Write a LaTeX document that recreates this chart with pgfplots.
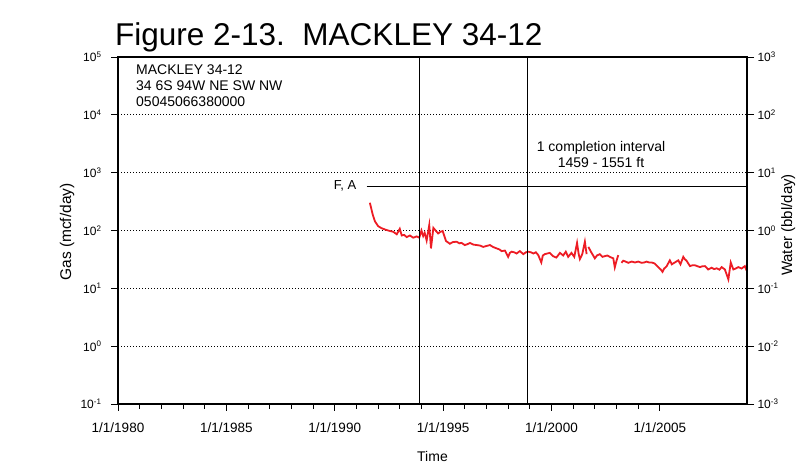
\documentclass[border=0pt]{standalone}
\usepackage{pgfplots}
\pgfplotsset{compat=1.18}
\usepackage{fontspec}
\setmainfont{Liberation Sans}
\definecolor{gasred}{RGB}{237,28,36}
\begin{document}
\begin{tikzpicture}
\useasboundingbox (0,0) rectangle (798pt,465pt);
\begin{axis}[
  at={(118pt,61pt)}, anchor=south west, scale only axis,
  width=629pt, height=347pt,
  xmin=1980, xmax=2009.02, ymode=log, ymin=0.1, ymax=1e5,
  xtick={1980,1985,1990,1995,2000,2005},
  xticklabels={1/1/1980,1/1/1985,1/1/1990,1/1/1995,1/1/2000,1/1/2005},
  minor x tick num=4,
  ytick={0.1,1,10,100,1000,10000,100000},
  yticklabels={10\textsuperscript{-1},10\textsuperscript{0},10\textsuperscript{1},10\textsuperscript{2},10\textsuperscript{3},10\textsuperscript{4},10\textsuperscript{5}},
  yminorticks=false,
  xtick pos=left, ytick pos=left,
  tick align=outside,
  major tick length=7pt, minor tick length=5pt,
  tick style={black, line width=0.9pt},
  axis line style={line width=1.3pt},
  ymajorgrids, major grid style={black, line width=0.7pt, dash pattern=on 1pt off 2pt},
  xticklabel style={font=\fontsize{13.5}{14}\selectfont, yshift=-8pt},
  yticklabel style={font=\fontsize{12}{12}\selectfont, xshift=-6pt},
  clip=false,
]
\addplot[gasred, line width=1.8pt] coordinates {
(1991.62,302) (1991.75,190) (1991.85,145) (1992.0,119) (1992.15,110) (1992.32,104)
(1992.5,99) (1992.7,95) (1992.86,86) (1993.0,107) (1993.09,82) (1993.2,84)
(1993.32,77) (1993.47,82) (1993.62,75) (1993.78,79) (1993.9,75) (1994.0,100)
(1994.08,80) (1994.15,91) (1994.24,67) (1994.36,124) (1994.44,49) (1994.55,111)
(1994.67,98) (1994.77,89) (1994.88,95) (1994.98,98) (1995.13,66) (1995.31,59)
(1995.45,63) (1995.62,64) (1995.75,60) (1995.85,61) (1996.0,56) (1996.12,58)
(1996.24,61) (1996.4,57) (1996.55,56) (1996.7,55) (1996.85,52) (1997.0,54)
(1997.16,56) (1997.3,52) (1997.47,49) (1997.6,47) (1997.7,44) (1997.85,45)
(1998.0,35) (1998.08,41) (1998.16,43) (1998.28,42) (1998.39,40) (1998.54,44)
(1998.7,39) (1998.82,42) (1998.93,43) (1999.05,42) (1999.16,40) (1999.28,42)
(1999.39,37.5) (1999.53,28) (1999.6,37) (1999.69,39) (1999.8,40) (1999.92,41)
(2000.07,36) (2000.22,34) (2000.3,37) (2000.39,41) (2000.54,37) (2000.66,43)
(2000.77,35) (2000.92,41) (2001.05,35) (2001.18,61) (2001.25,40) (2001.31,32)
(2001.42,39) (2001.54,64) (2001.62,39)
};
\addplot[gasred, line width=1.8pt] coordinates {
(2001.7,52) (2001.85,41) (2002.0,33) (2002.1,37) (2002.23,39) (2002.35,35)
(2002.46,36) (2002.58,37) (2002.69,35) (2002.85,33) (2002.92,23) (2003.0,30)
(2003.08,37.5)
};
\addplot[gasred, line width=1.8pt] coordinates {
(2003.23,27.6) (2003.31,30) (2003.42,29) (2003.54,27.6) (2003.7,29) (2003.85,28)
(2004.0,29) (2004.16,27.6) (2004.28,28) (2004.39,29) (2004.5,28) (2004.62,28)
(2004.75,27) (2004.92,23.3) (2005.05,21) (2005.12,19.3) (2005.2,22) (2005.31,24)
(2005.46,30.5) (2005.55,26) (2005.69,28) (2005.85,30.5) (2005.95,26) (2006.08,35)
(2006.15,32) (2006.23,30) (2006.39,24.2) (2006.5,25) (2006.62,25) (2006.75,24)
(2006.85,23.3) (2006.95,24) (2007.08,24.2) (2007.23,21.2) (2007.39,22.7) (2007.5,21.5)
(2007.62,22.2) (2007.75,21) (2007.85,23.3) (2008.0,21.2) (2008.16,14.3) (2008.27,28)
(2008.39,21.2) (2008.5,22) (2008.62,23.3) (2008.77,22) (2008.92,24.2) (2009.0,20.4)
};
% event lines
\draw[black, line width=0.8pt] (axis cs:1993.9,0.1) -- (axis cs:1993.9,1e5);
\draw[black, line width=0.8pt] (axis cs:1998.9,0.1) -- (axis cs:1998.9,1e5);
\draw[black, line width=0.8pt] (axis cs:1991.47,586) -- (axis cs:2009.02,586);
\node[anchor=east, font=\fontsize{13}{13}\selectfont, inner sep=0pt] at (axis cs:1991.0,586) {F, A};
\end{axis}
\begin{axis}[
  at={(118pt,61pt)}, anchor=south west, scale only axis,
  width=629pt, height=347pt,
  xmin=1980, xmax=2009.02, ymode=log, ymin=0.001, ymax=1000,
  hide x axis, axis y line*=right,
  ytick={0.001,0.01,0.1,1,10,100,1000},
  yticklabels={10\textsuperscript{-3},10\textsuperscript{-2},10\textsuperscript{-1},10\textsuperscript{0},10\textsuperscript{1},10\textsuperscript{2},10\textsuperscript{3}},
  yminorticks=false,
  tick align=outside, major tick length=7pt,
  tick style={black, line width=0.9pt},
  axis line style={line width=1.1pt},
  yticklabel style={font=\fontsize{12}{12}\selectfont},
]
\addplot[draw=none] coordinates {(1990,1)};
\end{axis}
% title and annotations (absolute placement)
\node[anchor=base west, inner sep=0pt, font=\fontsize{31.5}{36}\selectfont] at (115pt,419pt) {Figure 2-13.\ \ MACKLEY 34-12};
\node[anchor=north west, inner sep=0pt, align=left, font=\fontsize{14}{16}\selectfont] at (136pt,400pt) {MACKLEY 34-12\\34 6S 94W NE SW NW\\05045066380000};
\node[anchor=north, inner sep=0pt, align=center, font=\fontsize{14}{16}\selectfont] at (601pt,324pt) {1 completion interval\\1459 - 1551 ft};
\node[anchor=base, inner sep=0pt, font=\fontsize{14}{14}\selectfont] at (432.5pt,3.5pt) {Time};
\node[anchor=base, rotate=90, inner sep=0pt, font=\fontsize{15.5}{16}\selectfont] at (71pt,233pt) {Gas (mcf/day)};
\node[anchor=base, rotate=90, inner sep=0pt, font=\fontsize{15}{16}\selectfont] at (792pt,240pt) {Water (bbl/day)};
\end{tikzpicture}
\end{document}
